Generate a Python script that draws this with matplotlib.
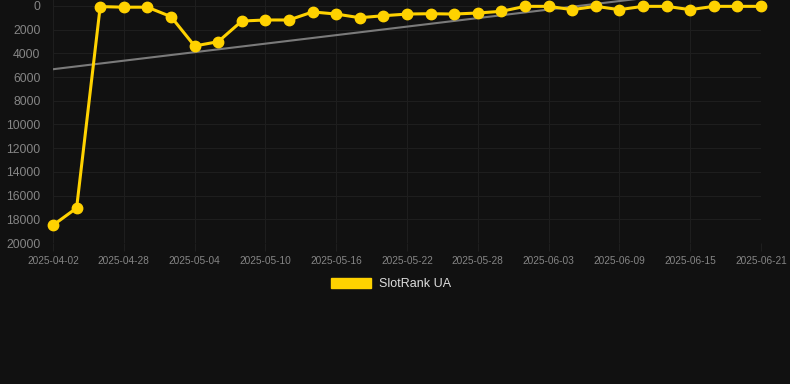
import numpy as np
import matplotlib
matplotlib.use("Agg")
import matplotlib.pyplot as plt
from matplotlib.patches import Patch

# datos (rango, eje invertido)
fechas = ["2025-04-02", "2025-04-03", "2025-04-26", "2025-04-28", "2025-04-30",
          "2025-05-02", "2025-05-04", "2025-05-06", "2025-05-08", "2025-05-10",
          "2025-05-12", "2025-05-14", "2025-05-16", "2025-05-18", "2025-05-20",
          "2025-05-22", "2025-05-24", "2025-05-26", "2025-05-28", "2025-05-30",
          "2025-06-01", "2025-06-03", "2025-06-05", "2025-06-07", "2025-06-09",
          "2025-06-11", "2025-06-13", "2025-06-15", "2025-06-17", "2025-06-19",
          "2025-06-21"]
rango = [18500, 17050, 50, 100, 100, 900, 3375, 3010, 1270, 1180,
         1180, 500, 680, 990, 820, 680, 650, 680, 590, 450,
         30, 30, 310, 30, 310, 30, 30, 310, 30, 30, 30]
serie = "SlotRank UA"

fondo = "#111111"
amarillo = "#ffd200"
gris_txt = "#858585"

plt.rcParams["font.family"] = ["Liberation Sans", "DejaVu Sans"]

fig = plt.figure(figsize=(7.9, 3.84), dpi=100, facecolor=fondo)
ax = fig.add_axes([53 / 790, 1 - 243 / 384, (761 - 53) / 790, 243 / 384])
ax.set_facecolor(fondo)

x = np.arange(len(fechas))
# linea de tendencia (regresion lineal)
m, b = np.polyfit(x, rango, 1)
ax.plot(x, m * x + b, color="#7a7a7a", lw=1.5, zorder=2)

ax.plot(x, rango, color=amarillo, lw=2.2, marker="o", markersize=7.5,
        zorder=3, clip_on=False, label=serie)

ax.set_xlim(0, len(fechas) - 1)
ax.set_ylim(20000, -506)
ax.set_yticks(np.arange(0, 20001, 2000))
ax.set_xticks(x[::3])
ax.set_xticklabels(fechas[::3])

ax.grid(True, color="#1e1e1e", lw=0.8)
for s in ax.spines.values():
    s.set_visible(False)
ax.tick_params(axis="y", colors=gris_txt, labelsize=8.8, length=0, pad=9)
ax.tick_params(axis="x", colors=gris_txt, labelsize=7.3, length=6, width=0.8,
               color="#1e1e1e", pad=3)

fig.legend(handles=[Patch(facecolor=amarillo, edgecolor=amarillo, label=serie)],
           loc="center", bbox_to_anchor=(391 / 790, 1 - 284 / 384), frameon=False,
           fontsize=9, labelcolor="#dddddd", handlelength=3.2, handleheight=0.9,
           handletextpad=0.6)

fig.savefig("out.png", dpi=100, facecolor=fondo)
